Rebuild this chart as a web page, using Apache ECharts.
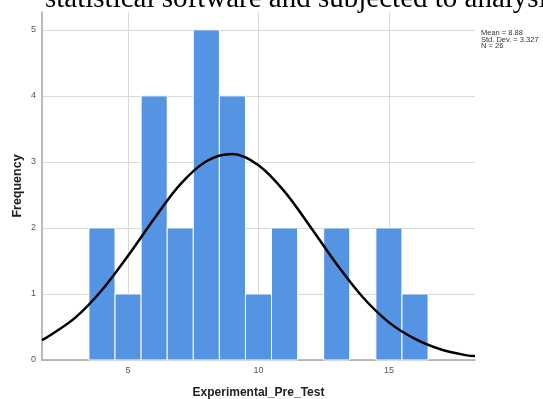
<!DOCTYPE html>
<html>
<head>
<meta charset="utf-8">
<script src="https://cdn.jsdelivr.net/npm/echarts@6/dist/echarts.min.js"></script>
<style>
html,body{margin:0;padding:0;background:#fff;}
#chart{width:543px;height:399px;}
</style>
</head>
<body>
<div id="chart"></div>
<script>
// Histogram bins (bin centre, width 1) and frequencies
var binCenters = [4, 5, 6, 7, 8, 9, 10, 11, 13, 15, 16];
var frequencies = [2, 1, 4, 2, 5, 4, 1, 2, 2, 2, 1];
// Normal curve
var curveX = [1.7, 2, 3, 4, 5, 6, 7, 8, 9, 10, 11, 12, 13, 14, 15, 16, 17, 18, 18.3];
var curveY = [0.30, 0.37, 0.65, 1.06, 1.58, 2.14, 2.66, 3.01, 3.12, 2.95, 2.55, 2.01, 1.45, 0.95, 0.57, 0.32, 0.16, 0.07, 0.06];
var xTickLabels = [5, 10, 15];
var yTickLabels = [0, 1, 2, 3, 4, 5];
var statsLines = ['Mean = 8.88', 'Std. Dev. = 3.327', 'N = 26'];
var xTitle = 'Experimental_Pre_Test';
var yTitle = 'Frequency';
var topText = 'statistical software and subjected to analysis.';

var chart = echarts.init(document.getElementById('chart'));
var barData = binCenters.map(function (c, i) { return [c, frequencies[i]]; });
var lineData = curveX.map(function (x, i) { return [x, curveY[i]]; });

chart.setOption({
  animation: false,
  backgroundColor: '#fff',
  grid: { left: 42, right: 68, top: 12, bottom: 39, containLabel: false, outerBoundsMode: 'none' },
  xAxis: {
    type: 'value', min: 1.7, max: 18.3,
    name: xTitle, nameLocation: 'middle', nameGap: 27, nameMoveOverlap: false,
    nameTextStyle: { fontFamily: 'Liberation Sans', fontWeight: 'bold', fontSize: 12, color: '#222' },
    axisLine: { show: true, onZero: false, lineStyle: { color: '#a6a6a6', width: 1.5 } },
    axisTick: { show: false, customValues: xTickLabels },
    axisLabel: { customValues: xTickLabels, fontFamily: 'Liberation Sans', fontSize: 9, color: '#555', margin: 6 },
    splitLine: { show: true, lineStyle: { color: '#d9d9d9', width: 1 } }
  },
  yAxis: {
    type: 'value', min: 0, max: 5.27,
    name: yTitle, nameLocation: 'middle', nameGap: 18, nameRotate: 90, nameMoveOverlap: false,
    nameTextStyle: { fontFamily: 'Liberation Sans', fontWeight: 'bold', fontSize: 12.5, color: '#222' },
    axisLine: { show: true, lineStyle: { color: '#a6a6a6', width: 1.5 } },
    axisTick: { show: false, customValues: yTickLabels },
    axisLabel: { customValues: yTickLabels, fontFamily: 'Liberation Sans', fontSize: 9, color: '#555', margin: 6 },
    splitLine: { show: true, lineStyle: { color: '#d9d9d9', width: 1 } }
  },
  graphic: [
    {
      type: 'text', left: 45, top: -15,
      style: { text: topText, font: '29px "Liberation Serif"', fill: '#000' }
    },
    {
      type: 'text', left: 481, top: 29,
      style: { text: statsLines.join('\n'), font: '7.5px "Liberation Sans"', lineHeight: 6.5, fill: '#333' }
    }
  ],
  series: [
    {
      type: 'custom',
      data: barData,
      renderItem: function (params, api) {
        var c = api.value(0), v = api.value(1);
        var p0 = api.coord([c - 0.5, v]);
        var p1 = api.coord([c + 0.5, 0]);
        return {
          type: 'rect',
          shape: { x: p0[0], y: p0[1], width: p1[0] - p0[0], height: p1[1] - p0[1] },
          style: { fill: '#5593e3', stroke: '#ffffff', lineWidth: 1 }
        };
      },
      z: 2
    },
    {
      type: 'line',
      data: lineData,
      smooth: 0.35,
      showSymbol: false,
      symbol: 'none',
      lineStyle: { color: '#000', width: 2.5 },
      z: 3
    }
  ]
});
</script>
</body>
</html>
